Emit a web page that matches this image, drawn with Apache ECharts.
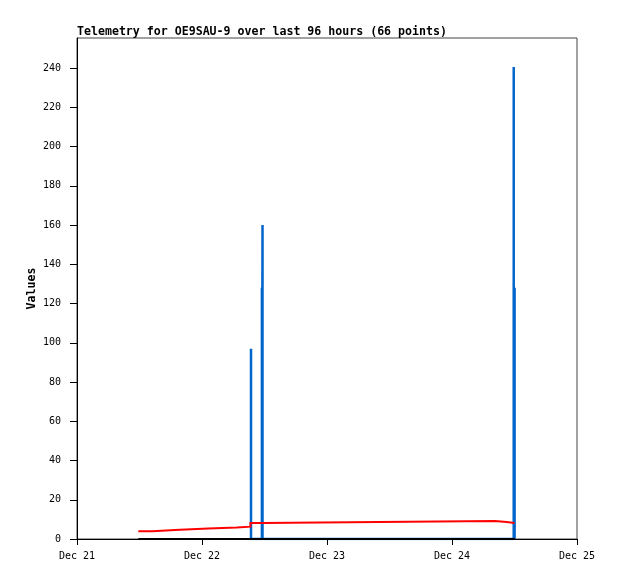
<!DOCTYPE html>
<html>
<head>
<meta charset="utf-8">
<script src="https://cdn.jsdelivr.net/npm/echarts@6/dist/echarts.min.js"></script>
<style>
html,body{margin:0;padding:0;background:#fff;}
#chart{width:618px;height:579px;}
</style>
</head>
<body>
<div id="chart"></div>
<script>
// x values are hours since Dec 21 00:00
var xTickLabels = ['Dec 21', 'Dec 22', 'Dec 23', 'Dec 24', 'Dec 25'];
var redTimes  = [11.77, 14.46, 19.78, 25.2, 30.66, 33.3, 35.5, 80.26, 82.5, 84.0];
var redValues = [4.0, 4.7, 5.3, 5.8, 6.3, 8.2, 9.2, 8.7, 8.2, 8.2];
var blackTimes  = [11.77, 84.1];
var blackValues = [0, 0];
var blueTimes  = [33.41, 35.5, 35.62, 83.85, 84.02];
var blueValues = [97, 128, 160, 240.5, 128];

// step-shaped red line: each value holds until the next sample time
var redData = [];
redTimes.forEach(function (t, i) {
  redData.push([t, redValues[i]]);
  if (i < redTimes.length - 1) redData.push([redTimes[i + 1], redValues[i]]);
});
var blackData = blackTimes.map(function (t, i) { return [t, blackValues[i]]; });
var blueData = [];
blueTimes.forEach(function (t, i) {
  blueData.push([t, 0], [t, blueValues[i]], [t, 0]);
});

var mono = 'DejaVu Sans Mono';
var chart = echarts.init(document.getElementById('chart'), null, {renderer: 'canvas'});
chart.setOption({
  animation: false,
  backgroundColor: '#ffffff',
  title: {
    text: 'Telemetry for OE9SAU-9 over last 96 hours (66 points)',
    left: 72, top: 21,
    textStyle: {fontFamily: mono, fontWeight: 'bold', fontSize: 11.6, color: '#000'}
  },
  grid: {left: 77, right: 41, top: 38, bottom: 40, show: true, borderColor: '#444', borderWidth: 1},
  xAxis: {
    type: 'value', min: 0, max: 96, interval: 24,
    axisLine: {show: true, lineStyle: {color: '#000', width: 1}},
    axisTick: {show: true, length: 6, lineStyle: {color: '#000'}},
    axisLabel: {
      margin: 12, color: '#000', fontFamily: mono, fontSize: 10,
      formatter: function (v) { return xTickLabels[Math.round(v / 24)] || ''; }
    },
    splitLine: {show: false}
  },
  yAxis: {
    type: 'value', min: 0, max: 255.3, interval: 20,
    name: 'Values', nameLocation: 'middle', nameGap: 39, nameRotate: 90,
    nameMoveOverlap: false,
    nameTextStyle: {fontFamily: mono, fontWeight: 'bold', fontSize: 11.6, color: '#000'},
    axisLine: {show: true, lineStyle: {color: '#000', width: 1}},
    axisTick: {show: true, length: 7, lineStyle: {color: '#000'}},
    axisLabel: {margin: 16, color: '#000', fontFamily: mono, fontSize: 10, showMaxLabel: false},
    splitLine: {show: false}
  },
  series: [
    {
      type: 'line', data: blueData, symbol: 'none', z: 2,
      lineStyle: {color: '#0066cc', width: 2.5}
    },
    {
      type: 'line', data: redData, symbol: 'none', z: 3,
      lineStyle: {color: '#ff0000', width: 2, join: 'miter', cap: 'butt'}
    },
    {
      type: 'line', data: blackData, symbol: 'none', z: 4,
      lineStyle: {color: '#000000', width: 2}
    }
  ]
});
</script>
</body>
</html>
